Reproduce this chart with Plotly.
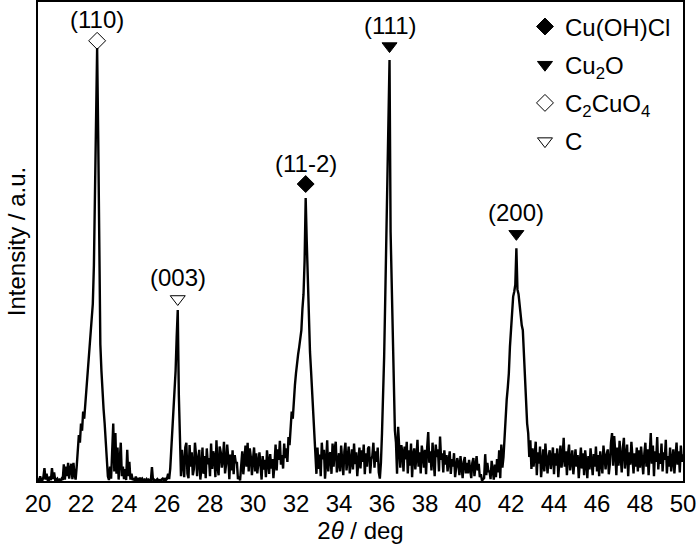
import plotly.graph_objects as go

# 2theta grid: 20.00 .. 50.00 step 0.05 (one row per degree)
two_theta_start = 20.0
two_theta_step = 0.05
intensity = [
    # 20
    0.6, 0.1, 1.0, 0.2, 0.1, 0.8, 2.7, 0.3, 1.5, 0.2, 0.1, 0.9, 0.2, 2.7, 0.4, 1.8, 0.1, 0.2, 0.5, 0.1,
    # 21
    0.3, 0.1, 0.5, 0.2, 3.5, 0.3, 3.0, 1.0, 3.8, 0.5, 2.5, 3.6, 0.4, 3.8, 1.2, 0.3, 3.0, 6.0, 9.6, 8.0,
    # 22
    12.0, 10.5, 14.5, 13.0, 16.0, 18.0, 21.0, 24.5, 28.5, 31.5, 34.0, 37.0, 45.0, 60.0, 80.0, 90.4, 72.0, 42.0, 28.5, 23.0,
    # 23
    17.0, 15.0, 12.0, 8.0, 4.0, 1.0, 0.2, 3.0, 0.5, 9.0, 12.0, 2.0, 10.0, 1.5, 7.0, 0.3, 4.0, 8.0, 1.0, 3.0,
    # 24
    0.4, 2.5, 0.2, 6.5, 1.0, 4.0, 0.3, 1.5, 0.2, 0.6, 0.1, 0.9, 0.2, 0.4, 0.1, 0.7, 0.2, 0.5, 0.1, 0.3,
    # 25
    0.1, 0.4, 0.1, 0.3, 0.1, 0.2, 2.9, 0.1, 0.3, 0.1, 0.2, 0.4, 0.1, 0.2, 0.1, 0.3, 0.5, 0.1, 0.6, 0.2,
    # 26
    0.5, 1.5, 0.4, 2.6, 6.5, 9.0, 13.0, 17.0, 23.0, 30.0, 35.7, 18.0, 6.0, 1.0, 6.5, 3.0, 0.8, 7.0, 8.0, 1.5,
    # 27
    0.6, 7.5, 3.0, 6.0, 1.2, 2.5, 8.0, 5.5, 1.0, 4.5, 6.5, 0.3, 2.5, 7.0, 1.5, 5.2, 0.6, 6.8, 3.5, 4.8,
    # 28
    1.0, 7.8, 2.5, 6.2, 5.0, 0.8, 8.5, 3.0, 1.2, 7.2, 6.0, 2.8, 4.4, 8.2, 1.6, 3.5, 7.6, 4.8, 0.4, 5.5,
    # 29
    2.2, 6.4, 1.4, 5.4, 3.8, 4.0, 0.4, 0.9, 0.1, 3.2, 6.2, 1.4, 4.6, 7.4, 3.0, 8.0, 2.0, 6.8, 5.0, 1.2,
    # 30
    4.5, 7.0, 2.0, 5.8, 1.6, 4.8, 6.0, 3.2, 0.3, 5.2, 2.4, 4.4, 0.8, 6.4, 3.6, 1.5, 5.6, 2.6, 4.6, 0.6,
    # 31
    3.5, 7.6, 2.2, 6.6, 4.4, 8.4, 3.4, 5.4, 2.6, 7.8, 4.8, 6.8, 4.0, 9.2, 7.5, 12.0, 14.5, 13.0, 18.0, 20.0,
    # 32
    22.5, 25.0, 26.5, 28.0, 30.0, 31.5, 36.0, 39.0, 46.0, 59.1, 50.0, 42.0, 33.0, 27.0, 23.0, 18.0, 13.5, 10.5, 6.0, 1.5,
    # 33
    7.0, 2.5, 5.5, 1.0, 8.0, 4.5, 6.5, 0.5, 3.8, 8.5, 2.0, 5.4, 6.0, 1.5, 7.8, 3.0, 6.8, 8.2, 1.8, 4.6,
    # 34
    5.8, 2.0, 7.4, 4.2, 1.2, 6.2, 8.0, 2.2, 5.6, 7.2, 1.6, 4.0, 6.6, 2.4, 7.8, 3.5, 6.0, 1.0, 4.8, 7.0,
    # 35
    2.6, 6.4, 4.0, 7.6, 1.4, 5.8, 3.0, 6.8, 7.2, 1.6, 4.5, 5.2, 8.0, 2.8, 6.2, 4.0, 7.0, 1.8, 0.5, 3.8,
    # 36
    10.0, 17.0, 26.0, 38.0, 50.0, 62.0, 78.0, 87.9, 52.0, 42.0, 31.0, 20.0, 10.5, 8.0, 1.5, 11.3, 7.0, 2.8, 7.5, 6.0,
    # 37
    2.0, 7.2, 4.5, 8.2, 1.6, 6.4, 3.2, 7.8, 0.8, 5.5, 6.8, 2.4, 5.0, 8.6, 3.0, 6.0, 1.6, 7.4, 5.6, 2.8,
    # 38
    6.5, 1.4, 7.0, 10.2, 3.8, 6.2, 2.2, 8.0, 4.6, 1.0, 7.6, 5.0, 6.6, 2.0, 9.3, 4.4, 5.8, 1.8, 6.4, 3.4,
    # 39
    5.4, 2.0, 4.2, 6.2, 1.5, 4.6, 3.0, 5.8, 0.8, 2.6, 4.8, 3.6, 1.2, 5.2, 2.8, 0.6, 4.0, 5.0, 1.6, 3.8,
    # 40
    1.6, 4.4, 2.5, 0.6, 3.8, 4.8, 1.0, 3.2, 5.2, 2.2, 3.6, 0.8, 1.4, 0.1, 0.3, 0.6, 5.6, 1.2, 3.8, 2.0,
    # 41
    2.0, 0.4, 4.2, 1.4, 0.3, 3.4, 0.8, 4.6, 1.8, 6.4, 0.6, 7.6, 2.8, 5.0, 10.0, 13.5, 17.0, 19.5, 22.5, 28.0,
    # 42
    32.0, 35.0, 38.5, 39.5, 41.0, 48.6, 40.0, 39.0, 36.5, 34.0, 32.5, 31.5, 26.0, 20.0, 15.0, 12.0, 10.0, 5.0, 8.5, 2.5,
    # 43
    6.8, 3.0, 5.4, 8.2, 1.2, 6.0, 3.6, 7.2, 0.8, 4.4, 6.6, 2.0, 7.8, 4.6, 1.6, 5.2, 6.4, 2.5, 4.8, 7.0,
    # 44
    1.4, 5.8, 3.2, 6.8, 0.8, 4.6, 7.4, 2.8, 5.0, 9.0, 3.0, 6.2, 1.2, 5.6, 7.6, 2.2, 5.0, 6.4, 1.4, 4.4,
    # 45
    6.6, 3.0, 5.4, 0.6, 4.2, 7.0, 2.6, 5.8, 1.2, 6.4, 4.0, 0.6, 5.2, 2.4, 6.8, 3.6, 1.2, 5.6, 3.0, 7.2,
    # 46
    2.0, 5.4, 1.0, 6.2, 4.0, 1.6, 7.4, 4.8, 2.4, 5.6, 6.6, 1.4, 3.6, 8.0, 10.0, 3.2, 9.4, 6.0, 1.2, 7.0,
    # 47
    3.2, 8.4, 5.0, 1.8, 6.8, 9.0, 2.6, 5.4, 7.6, 1.0, 6.0, 3.4, 8.2, 5.0, 1.6, 5.8, 3.0, 7.0, 2.0, 6.4,
    # 48
    2.8, 7.2, 4.6, 1.4, 5.6, 8.0, 3.0, 6.6, 1.2, 5.0, 10.0, 3.6, 7.4, 1.0, 6.2, 4.0, 9.2, 2.4, 5.8, 3.6,
    # 49
    7.8, 2.0, 6.0, 4.4, 8.6, 1.6, 5.2, 3.0, 7.0, 2.0, 4.4, 6.6, 1.6, 5.4, 8.0, 3.4, 6.2, 1.8, 7.4, 4.0,
    # 50
    5.6,
]
two_theta = [round(two_theta_start + i * two_theta_step, 2) for i in range(len(intensity))]

# Peak markers per phase: 2theta, marker height, hkl label
cuohcl_x = [32.45]
cuohcl_y = [62.0]
cuohcl_lbl = ["(11-2)"]

cu2o_x = [36.35, 42.25]
cu2o_y = [90.8, 51.6]
cu2o_lbl = ["(111)", "(200)"]

c2cuo4_x = [22.75]
c2cuo4_y = [91.9]
c2cuo4_lbl = ["(110)"]

c_x = [26.5]
c_y = [38.0]
c_lbl = ["(003)"]

x_ticks = list(range(20, 51, 2))

FONT = "Liberation Sans, Arial, sans-serif"
FS = 24
fig = go.Figure()
fig.add_trace(go.Scatter(x=two_theta, y=intensity, mode="lines",
                         line=dict(color="black", width=2.4),
                         showlegend=False, hoverinfo="skip"))

phases = [
    ("Cu(OH)Cl", cuohcl_x, cuohcl_y, cuohcl_lbl, "diamond"),
    ("Cu<sub>2</sub>O", cu2o_x, cu2o_y, cu2o_lbl, "triangle-down"),
    ("C<sub>2</sub>CuO<sub>4</sub>", c2cuo4_x, c2cuo4_y, c2cuo4_lbl, "diamond-open"),
    ("C", c_x, c_y, c_lbl, "triangle-down-open"),
]
for i, (name, xs, ys, lbls, sym) in enumerate(phases):
    fig.add_trace(go.Scatter(x=xs, y=ys, mode="markers", name=name,
                             legendgroup=f"g{i}",
                             marker=dict(symbol=sym, size=13, color="black",
                                         line=dict(color="black", width=1))))
    for xv, yv, lb in zip(xs, ys, lbls):
        fig.add_annotation(x=xv, y=yv, text=lb, showarrow=False, yshift=21,
                           font=dict(family=FONT, size=FS, color="black"))

fig.update_layout(
    width=700, height=545,
    margin=dict(l=38, r=17, t=2, b=64),
    paper_bgcolor="white", plot_bgcolor="white",
    font=dict(family=FONT, size=FS, color="black"),
    showlegend=True,
    legend=dict(x=0.755, y=0.995, xanchor="left", yanchor="top",
                bgcolor="rgba(0,0,0,0)", font=dict(family=FONT, size=FS),
                tracegroupgap=4, itemsizing="trace"),
)
fig.update_xaxes(range=[20, 50], tickvals=x_ticks, ticks="", showgrid=False,
                 zeroline=False, showline=True, linecolor="black", linewidth=1.5,
                 mirror=True, automargin=False, tickfont=dict(family=FONT, size=FS),
                 title=dict(text="2<i>θ</i> / deg", standoff=4,
                            font=dict(family=FONT, size=FS)))
fig.update_yaxes(range=[0, 100], showticklabels=False, ticks="", showgrid=False,
                 zeroline=False, showline=True, linecolor="black", linewidth=1.5,
                 mirror=True, automargin=False,
                 title=dict(text="Intensity / a.u.", standoff=4,
                            font=dict(family=FONT, size=FS)))

fig.write_html("out.html", config={"displayModeBar": False},
               post_script="document.body.style.margin='0';document.body.style.padding='0';")
